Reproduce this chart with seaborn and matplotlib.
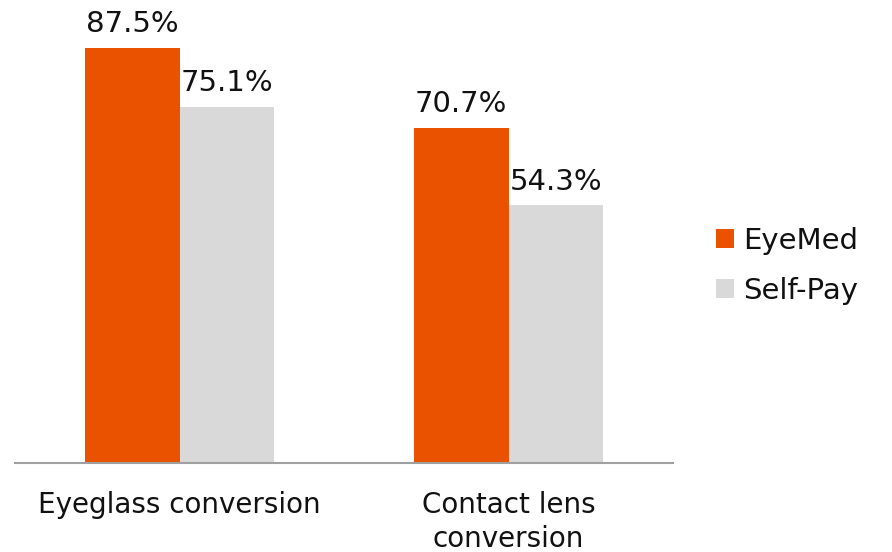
import matplotlib
matplotlib.use("Agg")
import matplotlib.pyplot as plt
import seaborn as sns
import pandas as pd
from matplotlib.patches import Patch

categories = ["Eyeglass conversion", "Contact lens\nconversion"]
series = ["EyeMed", "Self-Pay"]
eyemed = [87.5, 70.7]
selfpay = [75.1, 54.3]
colors = ["#EB5200", "#D9D9D9"]

rows = []
for c, v in zip(categories, eyemed):
    rows.append({"category": c, "series": series[0], "value": v})
for c, v in zip(categories, selfpay):
    rows.append({"category": c, "series": series[1], "value": v})
df = pd.DataFrame(rows)

sns.set_theme(style="white")
plt.rcParams["font.family"] = ["DejaVu Sans"]

fig = plt.figure(figsize=(8.92, 5.52), dpi=100)
ax = fig.add_axes([15 / 892, (552 - 463) / 552, (673 - 15) / 892, 463 / 552])

sns.barplot(data=df, x="category", y="value", hue="series", order=categories,
            hue_order=series, palette=colors, width=0.575, gap=0,
            saturation=1, linewidth=0, ax=ax, legend=False)

for cont in ax.containers:
    ax.bar_label(cont, labels=[f"{v:.1f}%" for v in cont.datavalues],
                 padding=7, fontsize=21, color="#111111")

ax.set_xlim(-0.5, 1.5)
ax.set_ylim(0, 97.6)
ax.set_xlabel("")
ax.set_ylabel("")
ax.set_yticks([])
for s in ["top", "right", "left"]:
    ax.spines[s].set_visible(False)
ax.spines["bottom"].set_color("#A0A0A0")
ax.spines["bottom"].set_linewidth(1.5)
ax.tick_params(axis="x", length=0, pad=20, labelsize=20, colors="#111111")
for t in ax.get_xticklabels():
    t.set_linespacing(1.3)

handles = [Patch(facecolor=colors[i], edgecolor="none", label=series[i]) for i in range(2)]
leg = fig.legend(handles=handles, loc="center left", bbox_to_anchor=(716 / 892, 1 - 266 / 552),
                 frameon=False, fontsize=21, handlelength=0.62, handleheight=0.62,
                 handletextpad=0.3, labelspacing=0.75, borderpad=0, borderaxespad=0)
for t in leg.get_texts():
    t.set_color("#111111")

fig.savefig("out.png", dpi=100)
